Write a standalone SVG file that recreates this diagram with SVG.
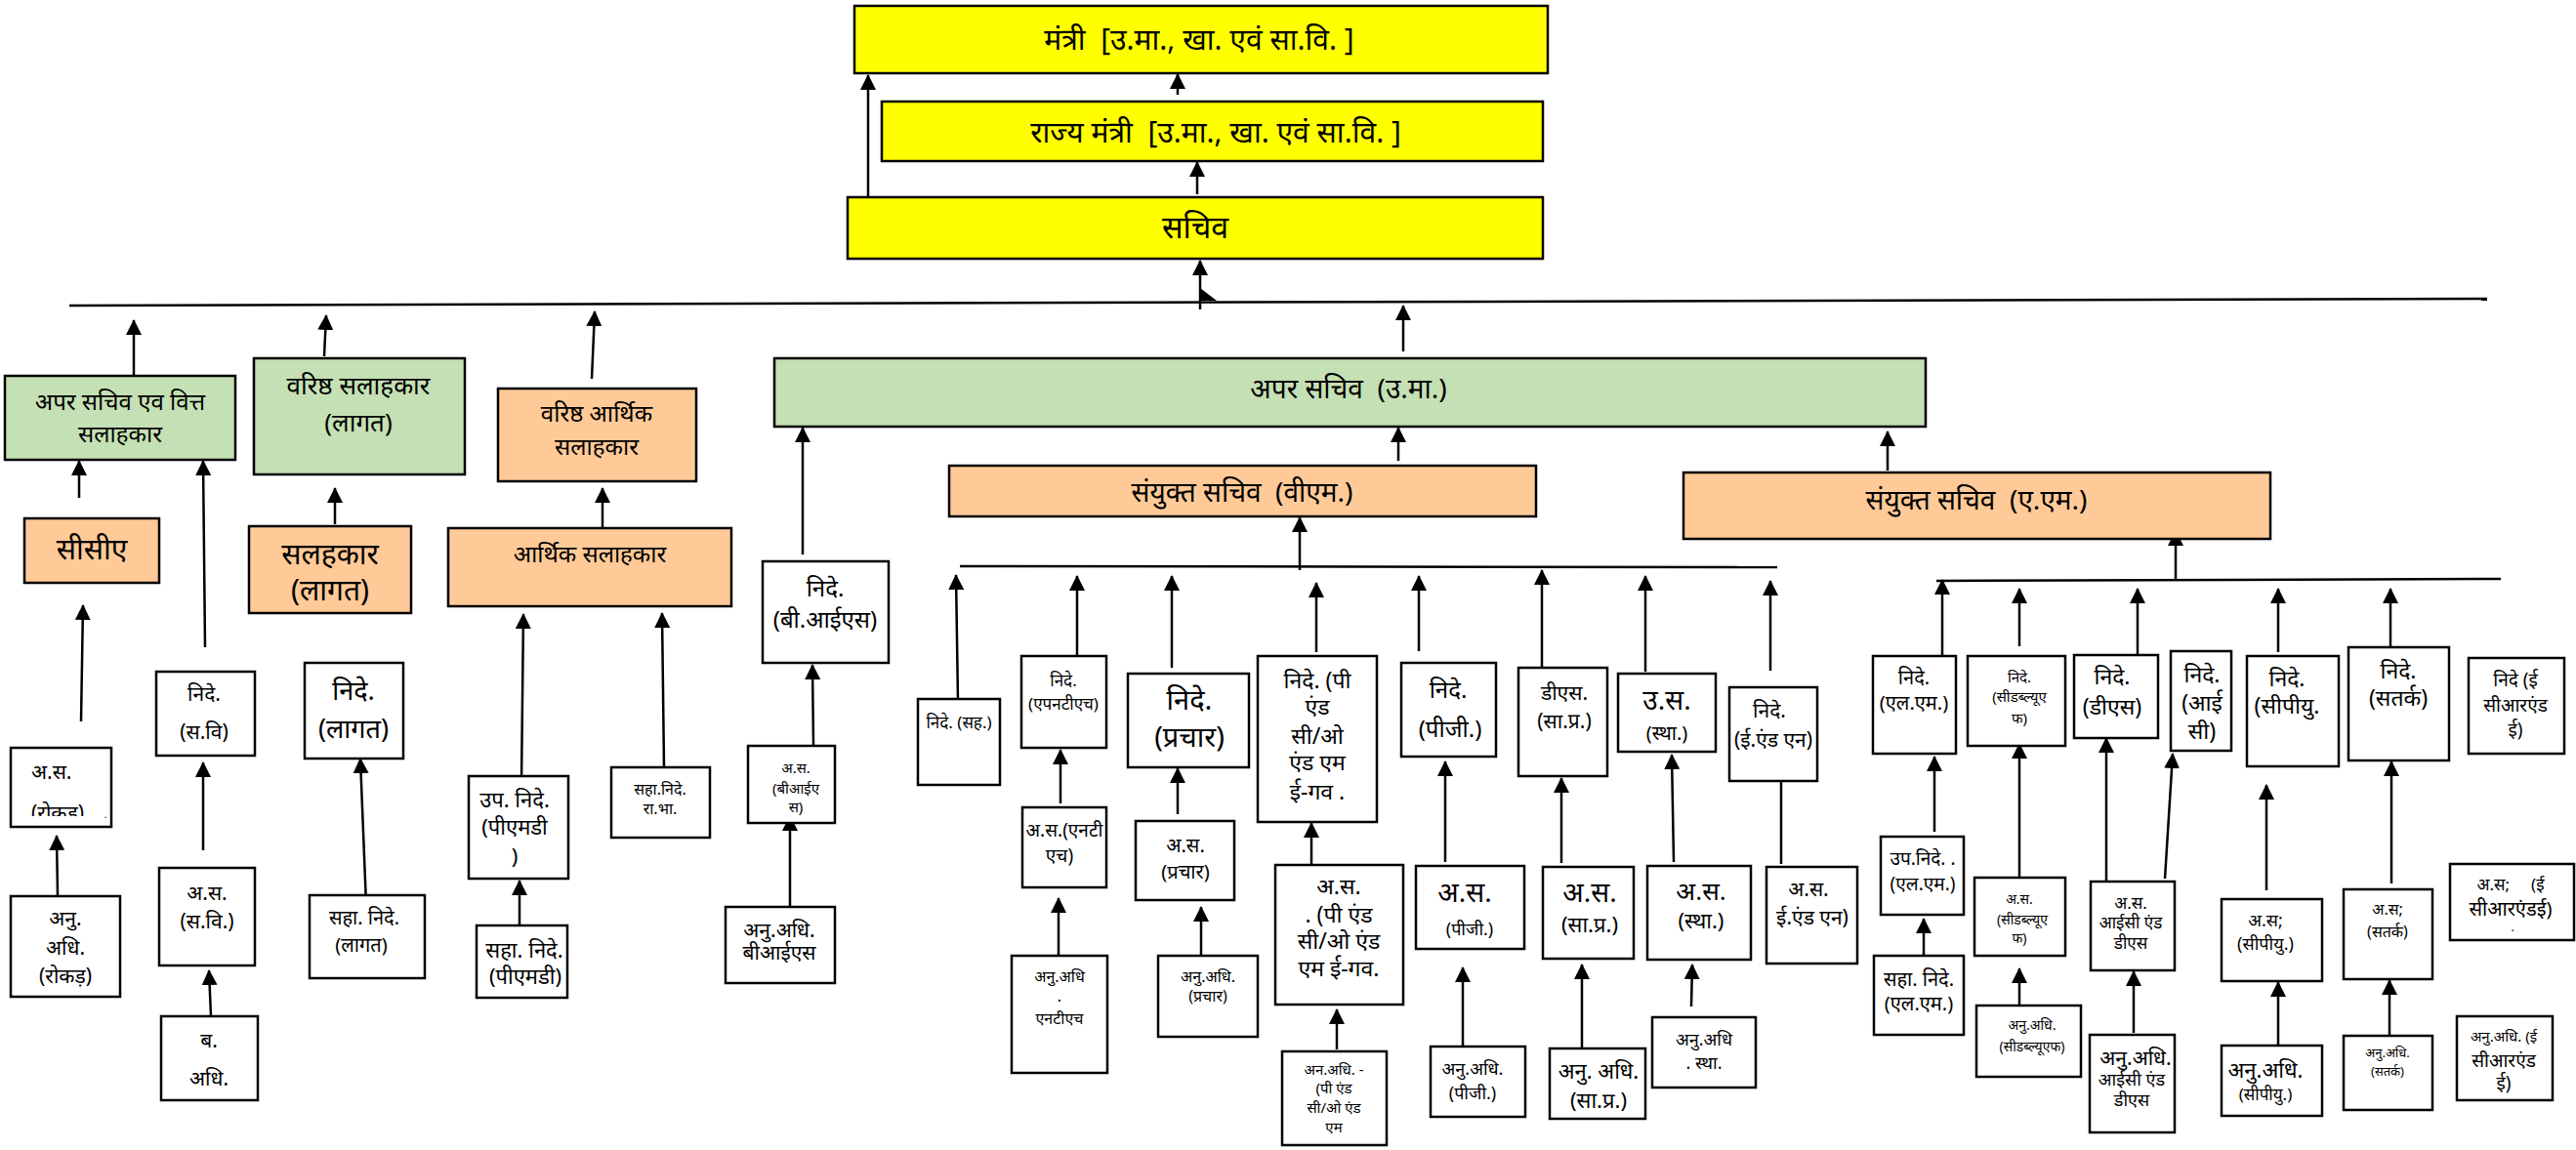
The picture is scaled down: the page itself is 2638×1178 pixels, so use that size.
<svg xmlns="http://www.w3.org/2000/svg" width="2638" height="1178" viewBox="0 0 2638 1178">
<style>
rect{stroke:#000;stroke-width:2.5}
.y{fill:#FFFF00}.g{fill:#C5E0B4}.o{fill:#FFCA97}.w{fill:#fff}
text{font-family:"Noto Sans","Liberation Sans",sans-serif;fill:#000;text-anchor:middle}
.s{text-anchor:start}
#conn line{stroke:#000;stroke-width:2.5;marker-end:url(#ah)}
#conn line.p{marker-end:none}
</style>
<defs>
<marker id="ah" markerUnits="userSpaceOnUse" markerWidth="16" markerHeight="16" viewBox="0 0 16 16" refX="15" refY="8" orient="auto"><path d="M0,0L16,8L0,16z" fill="#000"/></marker>
<clipPath id="cr"><rect x="11" y="766" width="103" height="70"/></clipPath>
</defs>
<g id="conn">
<line x1="889" y1="207" x2="889" y2="77"/>
<line x1="1206" y1="97" x2="1206" y2="76"/>
<line x1="1226" y1="199" x2="1226" y2="166"/>
<line x1="1229" y1="317" x2="1229" y2="267"/>
<polygon points="1229,295 1246,308 1229,308" fill="#000"/>
<line class="p" x1="71" y1="313" x2="2547" y2="306"/>
<line x1="137" y1="384" x2="137" y2="328"/>
<line x1="332" y1="365" x2="334" y2="323"/>
<line x1="606" y1="388" x2="609" y2="319"/>
<line x1="1437" y1="360" x2="1437" y2="313"/>
<line x1="81" y1="510" x2="81" y2="472"/>
<line x1="83" y1="739" x2="85" y2="620"/>
<line x1="210" y1="663" x2="208" y2="472"/>
<line x1="343" y1="537" x2="343" y2="500"/>
<line x1="617" y1="540" x2="617" y2="500"/>
<line x1="534" y1="803" x2="536" y2="629"/>
<line x1="680" y1="786" x2="678" y2="628"/>
<line x1="822" y1="568" x2="822" y2="438"/>
<line x1="833" y1="763" x2="832" y2="681"/>
<line x1="59" y1="917" x2="58" y2="856"/>
<line x1="208" y1="871" x2="208" y2="781"/>
<line x1="216" y1="1041" x2="214" y2="994"/>
<line x1="375" y1="927" x2="369" y2="777"/>
<line x1="532" y1="953" x2="532" y2="902"/>
<line x1="809" y1="929" x2="809" y2="836"/>
<line class="p" x1="983" y1="580" x2="1820" y2="581"/>
<line x1="1331" y1="584" x2="1331" y2="530"/>
<line x1="1432" y1="472" x2="1432" y2="438"/>
<line x1="1933" y1="482" x2="1933" y2="442"/>
<line class="p" x1="1983" y1="595" x2="2561" y2="593"/>
<line x1="2228" y1="595" x2="2228" y2="544"/>
<line x1="981" y1="719" x2="979" y2="589"/>
<line x1="1103" y1="672" x2="1103" y2="590"/>
<line x1="1086" y1="823" x2="1086" y2="768"/>
<line x1="1084" y1="979" x2="1084" y2="920"/>
<line x1="1200" y1="684" x2="1200" y2="590"/>
<line x1="1206" y1="834" x2="1206" y2="787"/>
<line x1="1230" y1="979" x2="1230" y2="929"/>
<line x1="1348" y1="668" x2="1348" y2="597"/>
<line x1="1343" y1="910" x2="1343" y2="843"/>
<line x1="1369" y1="1075" x2="1369" y2="1034"/>
<line x1="1453" y1="667" x2="1453" y2="590"/>
<line x1="1480" y1="883" x2="1480" y2="780"/>
<line x1="1498" y1="1071" x2="1498" y2="991"/>
<line x1="1579" y1="687" x2="1579" y2="584"/>
<line x1="1599" y1="884" x2="1599" y2="797"/>
<line x1="1620" y1="1073" x2="1620" y2="988"/>
<line x1="1685" y1="688" x2="1685" y2="590"/>
<line x1="1714" y1="883" x2="1712" y2="773"/>
<line x1="1732" y1="1031" x2="1733" y2="988"/>
<line x1="1813" y1="687" x2="1813" y2="595"/>
<line class="p" x1="1824" y1="800" x2="1824" y2="885"/>
<line x1="1989" y1="672" x2="1989" y2="594"/>
<line x1="1981" y1="852" x2="1981" y2="775"/>
<line x1="1970" y1="985" x2="1970" y2="941"/>
<line x1="2068" y1="662" x2="2068" y2="603"/>
<line x1="2068" y1="899" x2="2068" y2="762"/>
<line x1="2068" y1="1030" x2="2068" y2="992"/>
<line x1="2189" y1="670" x2="2189" y2="603"/>
<line x1="2157" y1="906" x2="2157" y2="756"/>
<line x1="2217" y1="900" x2="2225" y2="772"/>
<line x1="2185" y1="1058" x2="2185" y2="995"/>
<line x1="2333" y1="668" x2="2333" y2="603"/>
<line x1="2321" y1="912" x2="2321" y2="804"/>
<line x1="2333" y1="1071" x2="2333" y2="1006"/>
<line x1="2448" y1="664" x2="2448" y2="603"/>
<line x1="2449" y1="905" x2="2449" y2="780"/>
<line x1="2447" y1="1061" x2="2447" y2="1004"/>
</g>

<g id="mantri"><rect class="y" x="875" y="6" width="710" height="69"/><text x="1228" y="51" font-size="30" xml:space="preserve">मंत्री  [उ.मा., खा. एवं सा.वि. ]</text></g>
<g id="rajya-mantri"><rect class="y" x="903" y="104" width="677" height="61"/><text x="1245" y="146" font-size="30" xml:space="preserve">राज्य मंत्री  [उ.मा., खा. एवं सा.वि. ]</text></g>
<g id="sachiv"><rect class="y" x="868" y="202" width="712" height="63"/><text x="1224" y="244" font-size="32">सचिव</text></g>

<g id="as-fa"><rect class="g" x="5" y="385" width="236" height="86"/><text font-size="24"><tspan x="123" y="420">अपर सचिव एव वित्त</tspan><tspan x="123" y="453">सलाहकार</tspan></text></g>
<g id="vs-lagat"><rect class="g" x="260" y="367" width="216" height="119"/><text font-size="26"><tspan x="367" y="404">वरिष्ठ सलाहकार</tspan><tspan x="367" y="442">(लागत)</tspan></text></g>
<g id="vas"><rect class="o" x="510" y="398" width="203" height="95"/><text font-size="24"><tspan x="611" y="432">वरिष्ठ आर्थिक</tspan><tspan x="611" y="466">सलाहकार</tspan></text></g>
<g id="as-uma"><rect class="g" x="793" y="367" width="1179" height="70"/><text x="1381" y="408" font-size="28" xml:space="preserve">अपर सचिव  (उ.मा.)</text></g>

<g id="cca"><rect class="o" x="25" y="531" width="138" height="66"/><text x="94" y="573" font-size="30">सीसीए</text></g>
<g id="salahkar-lagat"><rect class="o" x="255" y="539" width="166" height="89"/><text font-size="30"><tspan x="338" y="578">सलहकार</tspan><tspan x="338" y="615">(लागत)</tspan></text></g>
<g id="arthik"><rect class="o" x="459" y="541" width="290" height="80"/><text x="604" y="576" font-size="24">आर्थिक सलाहकार</text></g>
<g id="nide-bis"><rect class="w" x="781" y="575" width="129" height="104"/><text font-size="24"><tspan x="845" y="611">निदे.</tspan><tspan x="845" y="643">(बी.आईएस)</tspan></text></g>

<g id="js-vm"><rect class="o" x="972" y="477" width="601" height="52"/><text x="1272" y="514" font-size="28" xml:space="preserve">संयुक्त सचिव  (वीएम.)</text></g>
<g id="js-am"><rect class="o" x="1724" y="484" width="601" height="68"/><text x="2024" y="522" font-size="28" xml:space="preserve">संयुक्त सचिव  (ए.एम.)</text></g>

<g id="nide-sv"><rect class="w" x="160" y="688" width="101" height="86"/><text font-size="21"><tspan x="209" y="718">निदे.</tspan><tspan x="209" y="757">(स.वि)</tspan></text></g>
<g id="nide-lagat"><rect class="w" x="312" y="679" width="101" height="98"/><text font-size="27"><tspan x="362" y="717">निदे.</tspan><tspan x="362" y="756">(लागत)</tspan></text></g>
<g id="as-rokad"><rect class="w" x="11" y="766" width="103" height="81"/><text class="s" font-size="21"><tspan x="32" y="798">अ.स.</tspan></text><text class="s" font-size="21" clip-path="url(#cr)"><tspan x="32" y="840">(रोकड़)</tspan></text><text x="108" y="838" font-size="10">.</text></g>
<g id="anu-rokad"><rect class="w" x="11" y="918" width="112" height="103"/><text font-size="21"><tspan x="67" y="948">अनु.</tspan><tspan x="67" y="978">अधि.</tspan><tspan x="67" y="1007">(रोकड़)</tspan></text></g>
<g id="as-sv"><rect class="w" x="163" y="889" width="98" height="100"/><text font-size="21"><tspan x="212" y="922">अ.स.</tspan><tspan x="212" y="951">(स.वि.)</tspan></text></g>
<g id="b-adhi"><rect class="w" x="165" y="1041" width="99" height="86"/><text font-size="21"><tspan x="214" y="1073">ब.</tspan><tspan x="214" y="1112">अधि.</tspan></text></g>
<g id="saha-lagat"><rect class="w" x="317" y="917" width="118" height="85"/><text font-size="20"><tspan x="373" y="947">सहा. निदे.</tspan><tspan x="370" y="975">(लागत)</tspan></text></g>
<g id="up-pmd"><rect class="w" x="480" y="795" width="102" height="105"/><text font-size="22"><tspan x="527" y="827">उप. निदे.</tspan><tspan x="527" y="855">(पीएमडी</tspan><tspan x="527" y="885">)</tspan></text></g>
<g id="saha-pmd"><rect class="w" x="488" y="948" width="93" height="74"/><text font-size="22"><tspan x="537" y="981">सहा. निदे.</tspan><tspan x="538" y="1008">(पीएमडी)</tspan></text></g>
<g id="saha-rabha"><rect class="w" x="626" y="786" width="101" height="72"/><text font-size="16"><tspan x="676" y="814">सहा.निदे.</tspan><tspan x="676" y="834">रा.भा.</tspan></text></g>
<g id="as-bis"><rect class="w" x="766" y="764" width="89" height="79"/><text font-size="15"><tspan x="815" y="792">अ.स.</tspan><tspan x="815" y="813">(बीआईए</tspan><tspan x="815" y="832">स)</tspan></text></g>
<g id="anu-bis"><rect class="w" x="743" y="929" width="112" height="78"/><text font-size="21"><tspan x="798" y="960">अनु.अधि.</tspan><tspan x="798" y="983">बीआईएस</tspan></text></g>

<g id="nide-sah"><rect class="w" x="940" y="716" width="84" height="88"/><text x="982" y="746" font-size="17">निदे. (सह.)</text></g>
<g id="nide-nth"><rect class="w" x="1046" y="672" width="87" height="94"/><text font-size="17"><tspan x="1089" y="703">निदे.</tspan><tspan x="1089" y="727">(एपनटीएच)</tspan></text></g>
<g id="as-nth"><rect class="w" x="1047" y="827" width="86" height="82"/><text font-size="19"><tspan x="1090" y="857">अ.स.(एनटी</tspan><tspan x="1085" y="883">एच)</tspan></text></g>
<g id="anu-nth"><rect class="w" x="1036" y="979" width="98" height="120"/><text font-size="16"><tspan x="1085" y="1006">अनु.अधि</tspan><tspan x="1085" y="1026">.</tspan><tspan x="1085" y="1049">एनटीएच</tspan></text></g>
<g id="nide-prachar"><rect class="w" x="1155" y="690" width="124" height="96"/><text font-size="29"><tspan x="1218" y="727">निदे.</tspan><tspan x="1218" y="765">(प्रचार)</tspan></text></g>
<g id="as-prachar"><rect class="w" x="1163" y="841" width="101" height="81"/><text font-size="20"><tspan x="1214" y="873">अ.स.</tspan><tspan x="1214" y="900">(प्रचार)</tspan></text></g>
<g id="anu-prachar"><rect class="w" x="1186" y="979" width="102" height="83"/><text font-size="16"><tspan x="1237" y="1006">अनु.अधि.</tspan><tspan x="1237" y="1026">(प्रचार)</tspan></text></g>
<g id="nide-pc"><rect class="w" x="1288" y="672" width="122" height="170"/><text font-size="23"><tspan x="1349" y="705">निदे. (पी</tspan><tspan x="1349" y="732">एंड</tspan><tspan x="1349" y="762">सी/ओ</tspan><tspan x="1349" y="789">एंड एम</tspan><tspan x="1349" y="819">ई-गव .</tspan></text></g>
<g id="as-pc"><rect class="w" x="1306" y="886" width="131" height="143"/><text font-size="23"><tspan x="1371" y="916">अ.स.</tspan><tspan x="1371" y="945">. (पी एंड</tspan><tspan x="1371" y="972">सी/ओ एंड</tspan><tspan x="1371" y="1000">एम ई-गव.</tspan></text></g>
<g id="anu-pc"><rect class="w" x="1313" y="1077" width="107" height="96"/><text font-size="15"><tspan x="1366" y="1101">अन.अधि. -</tspan><tspan x="1366" y="1120">(पी एंड</tspan><tspan x="1366" y="1140">सी/ओ एंड</tspan><tspan x="1366" y="1160">एम</tspan></text></g>
<g id="nide-pg"><rect class="w" x="1435" y="679" width="97" height="96"/><text font-size="24"><tspan x="1483" y="715">निदे.</tspan><tspan x="1485" y="755">(पीजी.)</tspan></text></g>
<g id="as-pg"><rect class="w" x="1450" y="887" width="111" height="85"/><text><tspan x="1500" y="924" font-size="28">अ.स.</tspan><tspan x="1505" y="958" font-size="18">(पीजी.)</tspan></text></g>
<g id="anu-pg"><rect class="w" x="1465" y="1072" width="97" height="72"/><text font-size="18"><tspan x="1508" y="1101">अनु.अधि.</tspan><tspan x="1508" y="1126">(पीजी.)</tspan></text></g>
<g id="ds-sapra"><rect class="w" x="1555" y="684" width="91" height="111"/><text font-size="21"><tspan x="1602" y="717">डीएस.</tspan><tspan x="1602" y="746">(सा.प्र.)</tspan></text></g>
<g id="as-sapra"><rect class="w" x="1580" y="888" width="93" height="94"/><text><tspan x="1628" y="924" font-size="28">अ.स.</tspan><tspan x="1628" y="955" font-size="22">(सा.प्र.)</tspan></text></g>
<g id="anu-sapra"><rect class="w" x="1587" y="1074" width="98" height="72"/><text font-size="22"><tspan x="1637" y="1105">अनु. अधि.</tspan><tspan x="1637" y="1135">(सा.प्र.)</tspan></text></g>
<g id="us-stha"><rect class="w" x="1657" y="690" width="100" height="80"/><text><tspan x="1707" y="727" font-size="28">उ.स.</tspan><tspan x="1707" y="758" font-size="20">(स्था.)</tspan></text></g>
<g id="as-stha"><rect class="w" x="1687" y="887" width="106" height="96"/><text><tspan x="1742" y="922" font-size="26">अ.स.</tspan><tspan x="1742" y="951" font-size="22">(स्था.)</tspan></text></g>
<g id="anu-stha"><rect class="w" x="1692" y="1042" width="106" height="72"/><text font-size="18"><tspan x="1745" y="1071">अनु.अधि</tspan><tspan x="1745" y="1095">. स्था.</tspan></text></g>
<g id="nide-en"><rect class="w" x="1771" y="704" width="90" height="96"/><text font-size="21"><tspan x="1812" y="735">निदे.</tspan><tspan x="1816" y="765">(ई.एंड एन)</tspan></text></g>
<g id="as-en"><rect class="w" x="1809" y="888" width="93" height="99"/><text font-size="21"><tspan x="1852" y="918">अ.स.</tspan><tspan x="1856" y="947">ई.एंड एन)</tspan></text></g>

<g id="nide-lm"><rect class="w" x="1918" y="672" width="85" height="100"/><text font-size="20"><tspan x="1960" y="701">निदे.</tspan><tspan x="1960" y="727">(एल.एम.)</tspan></text></g>
<g id="up-lm"><rect class="w" x="1926" y="857" width="85" height="80"/><text font-size="19"><tspan x="1969" y="886">उप.निदे. .</tspan><tspan x="1969" y="912">(एल.एम.)</tspan></text></g>
<g id="saha-lm"><rect class="w" x="1919" y="979" width="92" height="81"/><text font-size="20"><tspan x="1965" y="1010">सहा. निदे.</tspan><tspan x="1965" y="1035">(एल.एम.)</tspan></text></g>
<g id="nide-cwf"><rect class="w" x="2015" y="672" width="100" height="92"/><text font-size="15"><tspan x="2068" y="699">निदे.</tspan><tspan x="2068" y="719">(सीडब्ल्यूए</tspan><tspan x="2068" y="741">फ)</tspan></text></g>
<g id="as-cwf"><rect class="w" x="2022" y="899" width="93" height="80"/><text font-size="14"><tspan x="2068" y="926">अ.स.</tspan><tspan x="2071" y="947">(सीडब्ल्यूए</tspan><tspan x="2068" y="966">फ)</tspan></text></g>
<g id="anu-cwf"><rect class="w" x="2024" y="1030" width="107" height="73"/><text font-size="14"><tspan x="2081" y="1055">अनु.अधि.</tspan><tspan x="2081" y="1077">(सीडब्ल्यूएफ)</tspan></text></g>
<g id="nide-ds"><rect class="w" x="2124" y="671" width="86" height="85"/><text font-size="23"><tspan x="2163" y="701">निदे.</tspan><tspan x="2163" y="732">(डीएस)</tspan></text></g>
<g id="nide-ic"><rect class="w" x="2223" y="667" width="62" height="102"/><text font-size="23"><tspan x="2255" y="699">निदे.</tspan><tspan x="2255" y="728">(आई</tspan><tspan x="2255" y="757">सी)</tspan></text></g>
<g id="as-icds"><rect class="w" x="2141" y="903" width="86" height="91"/><text font-size="17"><tspan x="2182" y="931">अ.स.</tspan><tspan x="2182" y="951">आईसी एंड</tspan><tspan x="2182" y="972">डीएस</tspan></text></g>
<g id="anu-icds"><rect class="w" x="2140" y="1060" width="87" height="100"/><text font-size="18"><tspan x="2187" y="1091" font-size="21">अनु.अधि.</tspan><tspan x="2183" y="1112">आईसी एंड</tspan><tspan x="2183" y="1133">डीएस</tspan></text></g>
<g id="nide-cpu"><rect class="w" x="2301" y="672" width="94" height="113"/><text font-size="23"><tspan x="2342" y="703">निदे.</tspan><tspan x="2342" y="731">(सीपीयु.</tspan></text></g>
<g id="as-cpu"><rect class="w" x="2275" y="921" width="103" height="84"/><text font-size="18"><tspan x="2320" y="949">अ.स;</tspan><tspan x="2320" y="973">(सीपीयु.)</tspan></text></g>
<g id="anu-cpu"><rect class="w" x="2275" y="1071" width="103" height="72"/><text><tspan x="2320" y="1104" font-size="22">अनु.अधि.</tspan><tspan x="2320" y="1127" font-size="17">(सीपीयु.)</tspan></text></g>
<g id="nide-satark"><rect class="w" x="2405" y="663" width="103" height="116"/><text font-size="23"><tspan x="2456" y="695">निदे.</tspan><tspan x="2456" y="723">(सतर्क)</tspan></text></g>
<g id="as-satark"><rect class="w" x="2400" y="911" width="91" height="92"/><text font-size="16"><tspan x="2445" y="937">अ.स;</tspan><tspan x="2445" y="960">(सतर्क)</tspan></text></g>
<g id="anu-satark"><rect class="w" x="2400" y="1061" width="91" height="76"/><text font-size="13"><tspan x="2445" y="1083">अनु.अधि.</tspan><tspan x="2445" y="1102">(सतर्क)</tspan></text></g>
<g id="nide-ecre"><rect class="w" x="2528" y="674" width="98" height="98"/><text font-size="19"><tspan x="2576" y="703">निदे (ई</tspan><tspan x="2576" y="729">सीआरएंड</tspan><tspan x="2576" y="754">ई)</tspan></text></g>
<g id="as-ecre"><rect class="w" x="2509" y="885" width="127" height="78"/><text><tspan x="2571" y="912" font-size="17" xml:space="preserve">अ.स;     (ई</tspan><tspan x="2571" y="938" font-size="20">सीआरएंडई)</tspan><tspan x="2573" y="954" font-size="12">.</tspan></text></g>
<g id="anu-ecre"><rect class="w" x="2516" y="1041" width="98" height="86"/><text><tspan x="2564" y="1067" font-size="15">अनु.अधि. (ई</tspan><tspan x="2564" y="1093" font-size="19">सीआरएंड</tspan><tspan x="2564" y="1116" font-size="19">ई)</tspan></text></g>
</svg>
